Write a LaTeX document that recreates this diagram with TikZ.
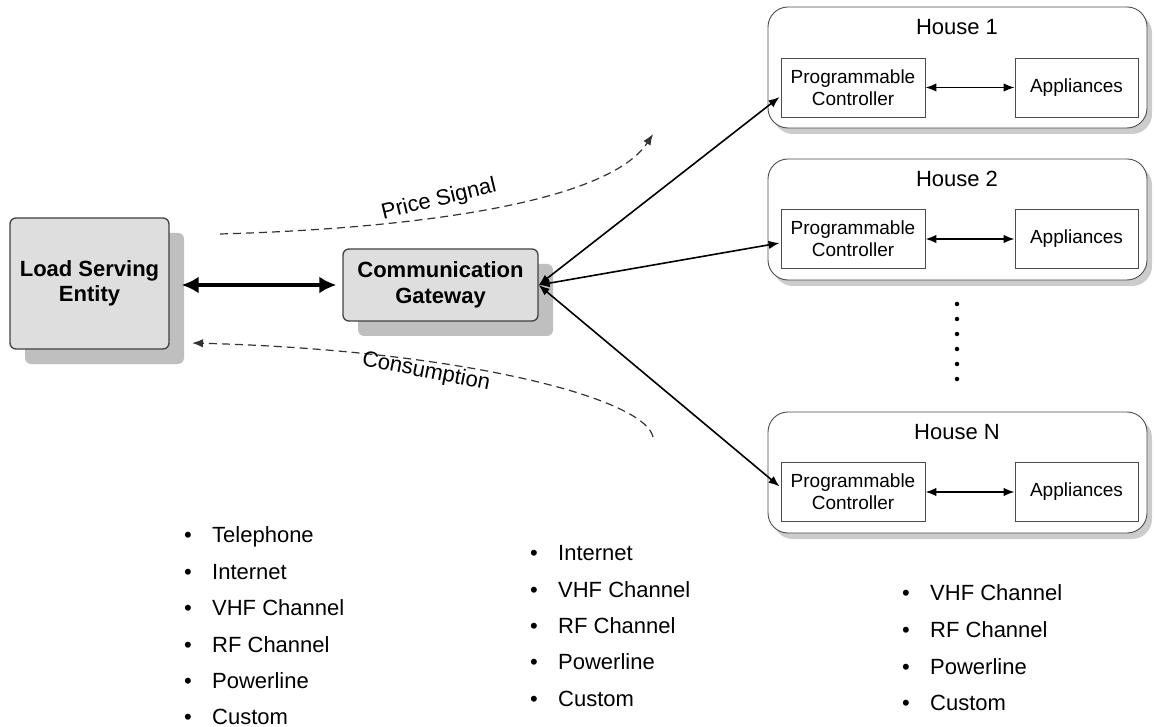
\documentclass[tikz,border=0pt]{standalone}
\usepackage{fontspec}
\setmainfont{Liberation Sans}
\usetikzlibrary{arrows.meta,shadows,calc}
\begin{document}
\begin{tikzpicture}[x=1pt,y=-1pt,
  mainbox/.style={draw=black!75, line width=1.3pt, fill=black!13, rounded corners=6pt, align=center,
    font=\bfseries\fontsize{22}{25.5}\selectfont, inner sep=0pt,
    drop shadow={shadow xshift=15pt, shadow yshift=-15pt, fill=black!25, opacity=1}},
  housebox/.style={draw=black!70, line width=0.9pt, fill=white, rounded corners=20pt, inner sep=0pt,
    minimum width=379pt, minimum height=121pt,
    drop shadow={shadow xshift=5pt, shadow yshift=-6pt, fill=black!20, opacity=1}},
  housetitle/.style={inner sep=0pt, font=\fontsize{22}{25}\selectfont},
  innerbox/.style={draw=black!70, line width=0.9pt, fill=white, inner sep=0pt, align=center,
    minimum height=59pt, font=\fontsize{19}{22}\selectfont},
  pcbox/.style={innerbox, minimum width=144pt},
  appbox/.style={innerbox, minimum width=123pt},
  link/.style={line width=1.6pt, {Latex[length=11pt,width=8.5pt]}-{Latex[length=11pt,width=8.5pt]}},
  biglink/.style={line width=4.5pt, {Latex[length=17pt,width=17pt]}-{Latex[length=17pt,width=17pt]}},
  flow/.style={dash pattern=on 8pt off 5pt, line width=1.2pt, draw=black!80, -{Latex[length=11pt,width=8.5pt]}},
  flowlabel/.style={inner sep=0pt, font=\fontsize{22}{25}\selectfont},
  item/.style={anchor=base west, inner sep=0pt, font=\fontsize{22}{25}\selectfont},
  dotmark/.style={circle, fill=black, inner sep=0pt, minimum size=4.5pt},
]
\useasboundingbox (0,0) rectangle (1154,727);

% main boxes
\node[mainbox, minimum width=159pt, minimum height=131pt] (lse) at (89.5,283.5) {Load Serving\\Entity};
\node[mainbox, minimum width=195pt, minimum height=72pt] (gw) at (440.5,285) {Communication\\Gateway};

% houses
\node[housebox] (h1) at (957.5,67.5) {};
\node[housetitle] (h1t) at (957,27) {House 1};
\node[pcbox] (pc1) at (853,87.5) {Programmable\\Controller};
\node[appbox] (ap1) at (1076.5,87.5) {Appliances};

\node[housebox] (h2) at (957.5,219.5) {};
\node[housetitle] (h2t) at (957,179) {House 2};
\node[pcbox] (pc2) at (853,239) {Programmable\\Controller};
\node[appbox] (ap2) at (1076.5,239) {Appliances};

\node[housebox] (h3) at (957.5,472.5) {};
\node[housetitle] (h3t) at (957,432) {House N};
\node[pcbox] (pc3) at (853,492) {Programmable\\Controller};
\node[appbox] (ap3) at (1076.5,492) {Appliances};

\draw[link] (pc1) -- (ap1);
\draw[link] (pc2) -- (ap2);
\draw[link] (pc3) -- (ap3);

% dots
\foreach \i in {0,...,5} \node[dotmark] (d\i) at (957,304+15*\i) {};

% connectors
\draw[biglink, shorten <=12pt, shorten >=6pt] (lse.east |- gw.west) -- (gw.west);
\draw[link] (gw.east) -- ($(pc1.west)+(-1,9.5)$);
\draw[link] (gw.east) -- ($(pc2.west)+(-1,4)$);
\draw[link] (gw.east) -- ($(pc3.west)+(-1,-5.5)$);

% flows
\coordinate (ps0) at (220,234);
\coordinate (ps1) at (653,134);
\draw[flow] (ps0) .. controls (430,228) and (610,200) .. (ps1);
\node[flowlabel, rotate=13.5] (pslabel) at (439,200) {Price Signal};

\coordinate (cs0) at (653,437);
\coordinate (cs1) at (192,343);
\draw[flow] (cs0) .. controls (645,398) and (460,350) .. (cs1);
\node[flowlabel, rotate=-11] (cslabel) at (426,372) {Consumption};

% bullet lists
\newcommand{\bul}[1]{\makebox[28pt][l]{•}#1}
\node[item] (a1) at (184,542) {\bul{Telephone}};
\node[item] (a2) at (184,579) {\bul{Internet}};
\node[item] (a3) at (184,615) {\bul{VHF Channel}};
\node[item] (a4) at (184,652) {\bul{RF Channel}};
\node[item] (a5) at (184,688) {\bul{Powerline}};
\node[item] (a6) at (184,724) {\bul{Custom}};

\node[item] (b1) at (530,560) {\bul{Internet}};
\node[item] (b2) at (530,597) {\bul{VHF Channel}};
\node[item] (b3) at (530,633) {\bul{RF Channel}};
\node[item] (b4) at (530,669) {\bul{Powerline}};
\node[item] (b5) at (530,706) {\bul{Custom}};

\node[item] (c1) at (902,600) {\bul{VHF Channel}};
\node[item] (c2) at (902,637) {\bul{RF Channel}};
\node[item] (c3) at (902,674) {\bul{Powerline}};
\node[item] (c4) at (902,710) {\bul{Custom}};
\end{tikzpicture}
\end{document}
